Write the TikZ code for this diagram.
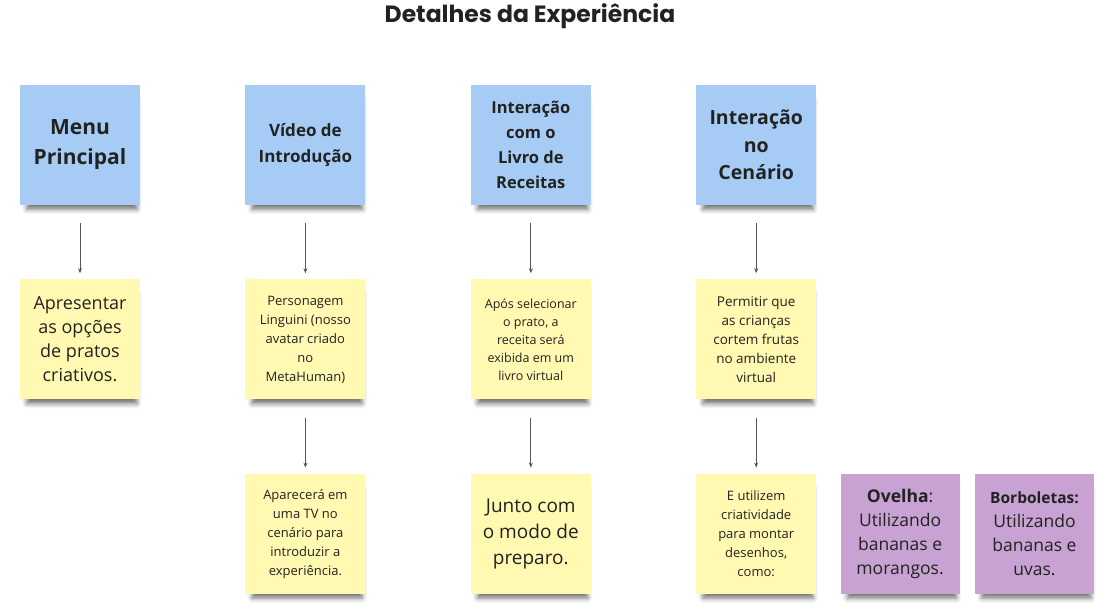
\documentclass[tikz,border=0pt]{standalone}
\usepackage{fontspec}
\setmainfont{Open Sans}
\newfontfamily\titlefont{Poppins}
\usetikzlibrary{positioning,arrows.meta,shadows.blur}
\definecolor{stickyblue}{RGB}{166,204,245}
\definecolor{stickyyellow}{RGB}{255,249,177}
\definecolor{stickypurple}{RGB}{199,162,210}
\definecolor{inkgray}{RGB}{34,34,34}
\definecolor{arrowgray}{RGB}{85,85,85}

\begin{document}
\begin{tikzpicture}[x=1pt,y=1pt,
        node distance=74pt and 105pt,
        sticky/.style={rectangle, minimum width=120pt, minimum height=120pt,
            inner sep=3pt, align=center, text=inkgray,
            blur shadow={shadow xshift=2pt, shadow yshift=-10pt, shadow scale=0.92,
                shadow blur radius=5pt, shadow opacity=55}},
        topic/.style={sticky, fill=stickyblue, font=\bfseries\fontsize{17}{26}\selectfont},
        note/.style={sticky, fill=stickyyellow, font=\fontsize{13}{19}\selectfont},
        example/.style={sticky, fill=stickypurple, font=\fontsize{17.5}{24}\selectfont},
        flow/.style={-{Stealth[length=5pt,width=4pt]}, draw=arrowgray, line width=0.8pt,
            shorten <=18pt, shorten >=6pt}
        ]
        \useasboundingbox (0,0) rectangle (1116,-614);

        \node[font=\titlefont\bfseries\fontsize{23.5}{26}\selectfont, text=inkgray] (title) at (530,-16) {Detalhes da Experiência};

        % First row
        \node[topic, font=\bfseries\fontsize{21}{30}\selectfont] (menu) at (80,-145) {Menu\\Principal};
        \node[topic, right=of menu] (video) {Vídeo de\\Introdução};
        \node[topic, right=of video, font=\bfseries\fontsize{16.5}{25}\selectfont] (livro) {Interação\\com o\\Livro de\\Receitas};
        \node[topic, right=of livro, font=\bfseries\fontsize{19.5}{27.5}\selectfont] (cenario) {Interação\\no\\Cenário};

        % Second row
        \node[note, below=of menu, font=\fontsize{18}{24}\selectfont] (opcoes) {Apresentar\\as opções\\de pratos\\criativos.};
        \node[note, below=of video] (linguini) {Personagem\\Linguini (nosso\\avatar criado\\no\\MetaHuman)};
        \node[note, below=of livro, font=\fontsize{12.5}{18}\selectfont] (receita) {Após selecionar\\o prato, a\\receita será\\exibida em um\\livro virtual};
        \node[note, below=of cenario, font=\fontsize{13.5}{19}\selectfont] (frutas) {Permitir que\\as crianças\\cortem frutas\\no ambiente\\virtual};

        % Third row
        \node[note, below=of linguini] (tv) {Aparecerá em\\uma TV no\\cenário para\\introduzir a\\experiência.};
        \node[note, below=of receita, font=\fontsize{19}{26}\selectfont] (preparo) {Junto com\\o modo de\\preparo.};
        \node[note, below=of frutas] (desenhos) {E utilizem\\criatividade\\para montar\\desenhos,\\como:};
        \node[example, right=24pt of desenhos, minimum width=119pt] (ovelha) {\textbf{Ovelha}:\\Utilizando\\bananas e\\morangos.};
        \node[example, right=15pt of ovelha, minimum width=119pt] (borboletas) {{\bfseries\fontsize{15.5}{24}\selectfont Borboletas:}\\Utilizando\\bananas e\\uvas.};

        \draw[flow] (menu) -- (opcoes);
        \draw[flow] (video) -- (linguini);
        \draw[flow] (livro) -- (receita);
        \draw[flow] (cenario) -- (frutas);
        \draw[flow] (linguini) -- (tv);
        \draw[flow] (receita) -- (preparo);
        \draw[flow] (frutas) -- (desenhos);
    \end{tikzpicture}
\end{document}
